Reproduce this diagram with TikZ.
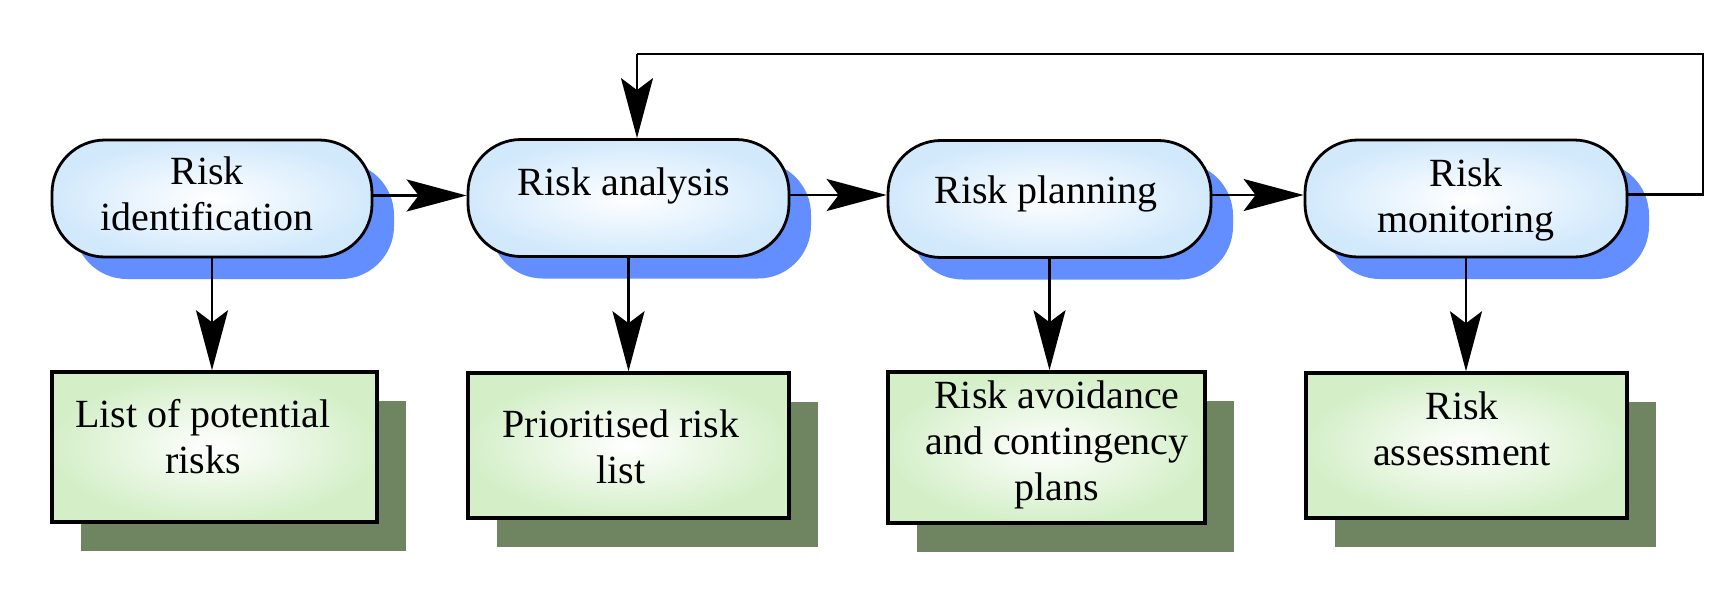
\documentclass[tikz,border=0pt]{standalone}
\usepackage{fontspec}
\setmainfont{Liberation Serif}
\usetikzlibrary{arrows.meta,shadows}
\definecolor{sblue}{RGB}{98,142,255}
\definecolor{sgreen}{RGB}{111,132,96}
\definecolor{edgeblue}{RGB}{210,233,252}
\definecolor{edgegreen}{RGB}{212,239,200}
\begin{document}
\begin{tikzpicture}[x=1pt,y=-1pt,
  stadium/.style={draw=black, line width=2.8pt, rounded corners=53pt,
    inner color=white, outer color=edgeblue, minimum height=117pt,
    drop shadow={shadow xshift=22pt, shadow yshift=-22pt, fill=sblue, opacity=1}},
  outbox/.style={draw=black, line width=3.5pt,
    inner color=white, outer color=edgegreen,
    drop shadow={shadow xshift=29pt, shadow yshift=-29pt, fill=sgreen, opacity=1}},
  lbl/.style={align=center, anchor=base, inner sep=0pt, font=\fontsize{40}{46}\selectfont},
  arr/.style={line width=2.5pt, -{Stealth[length=60pt,width=32pt,inset=12pt]}},
  fb/.style={line width=2.5pt}
]
\useasboundingbox (0,0) rectangle (1731,611);

% process stadiums
\node[stadium, minimum width=320pt] (s1) at (212,198.5) {};
\node[stadium, minimum width=321pt] (s2) at (628.5,198) {};
\node[stadium, minimum width=323pt] (s3) at (1049.5,199) {};
\node[stadium, minimum width=322pt] (s4) at (1466,198.5) {};

% output boxes
\node[outbox, minimum width=325pt, minimum height=150pt] (b1) at (214.5,447) {};
\node[outbox, minimum width=321pt, minimum height=145pt] (b2) at (628.5,445.5) {};
\node[outbox, minimum width=317pt, minimum height=151pt] (b3) at (1046.5,447.5) {};
\node[outbox, minimum width=321pt, minimum height=145pt] (b4) at (1466.5,445.5) {};

% texts (base anchor = baseline of the last line)
\node[lbl] (t1) at (207,230) {Risk\\identification};
\node[lbl] (t2) at (624,195) {Risk analysis};
\node[lbl] (t3) at (1046,203) {Risk planning};
\node[lbl] (t4) at (1466,232) {Risk\\monitoring};
\node[lbl] (u1) at (203,473) {List of potential\\risks};
\node[lbl] (u2) at (621,483) {Prioritised risk\\list};
\node[lbl] (u3) at (1057,500) {Risk avoidance\\and contingency\\plans};
\node[lbl] (u4) at (1462,465) {Risk\\assessment};

% connectors
\draw[arr] ([yshift=3pt]s1.east) -- ([yshift=3pt]s1.east -| s2.west);
\draw[arr] ([yshift=3pt]s2.east) -- ([yshift=3pt]s2.east -| s3.west);
\draw[arr] ([yshift=4pt]s3.east) -- ([yshift=4pt]s3.east -| s4.west);
\draw[arr] (s1.south) -- (b1.north -| s1.south);
\draw[arr] (s2.south) -- (b2.north -| s2.south);
\draw[arr] (s3.south) -- (b3.north -| s3.south);
\draw[arr] (s4.south) -- (b4.north -| s4.south);

% feedback loop
\coordinate (fbR) at (1703,54);
\coordinate (fbL) at (637,54);
\draw[fb] ([yshift=4pt]s4.east) -| (fbR) -- (fbL);
\draw[arr] (fbL) -- (fbL |- s2.north);
\end{tikzpicture}
\end{document}
